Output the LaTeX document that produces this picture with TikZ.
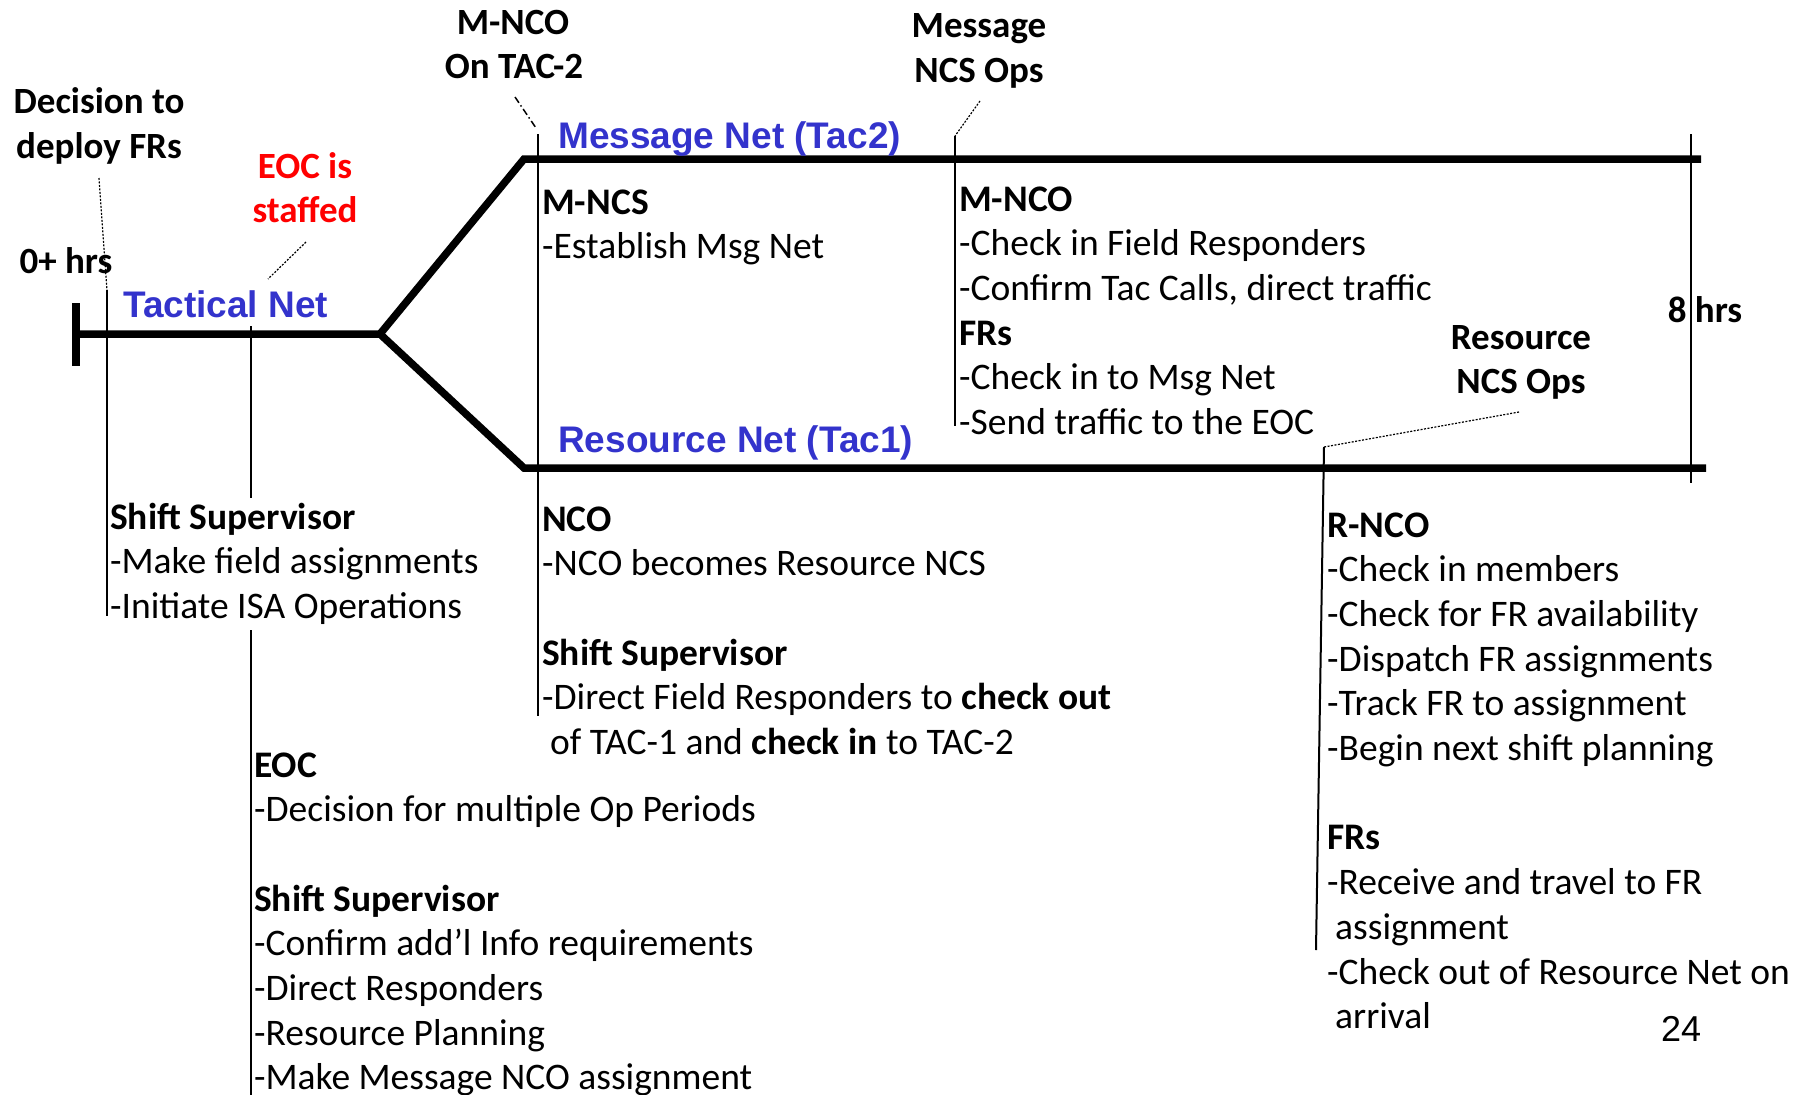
\documentclass[tikz,border=0pt]{standalone}
\usepackage{fontspec}
\setmainfont{Carlito}
\newfontfamily\arialfont{Liberation Sans}
\definecolor{netblue}{RGB}{51,51,204}
\definecolor{eocred}{RGB}{255,0,0}
\begin{document}
\begin{tikzpicture}[x=1pt,y=-1pt,
  body/.style={font=\fontsize{37.5}{45}\selectfont, inner sep=0pt, anchor=base west},
  hdr/.style={font=\fontsize{37}{45}\selectfont\bfseries, inner sep=0pt, anchor=base},
  netlabel/.style={font=\arialfont\bfseries\fontsize{37}{44}\selectfont, text=netblue, inner sep=0pt, anchor=base west},
  netline/.style={line width=7.5pt, line join=miter},
  vline/.style={line width=2pt},
  leader/.style={line width=1.2pt, dash pattern=on 2pt off 1.5pt},
  dashdotleader/.style={line width=1.5pt, dash pattern=on 7pt off 3pt on 1.5pt off 3pt}]
\useasboundingbox (0,0) rectangle (1805,1095);

% ---- nets (thick lines) ----
\coordinate (tickT) at (76,303);
\coordinate (tickB) at (76,366);
\coordinate (start) at (76,334);
\coordinate (fork) at (380,334);
\coordinate (upC) at (524,159);
\coordinate (upE) at (1701,159);
\coordinate (loC) at (524,468);
\coordinate (loE) at (1706,468);
\draw[netline] (tickT) -- (tickB);
\draw[netline] (start) -- (fork) -- (upC) -- (upE);
\draw[netline] (fork) -- (loC) -- (loE);

% ---- net labels ----
\node[netlabel] (tacnet) at (123,317) {Tactical Net};
\node[netlabel] (msgnet) at (558,148) {Message Net (Tac2)};
\node[netlabel] (resnet) at (558,452) {Resource Net (Tac1)};

% ---- headers ----
\node[hdr] (dec1) at (99,113) {Decision to};
\node[hdr] (dec2) at (99,158) {deploy FRs};
\node[hdr] (zero) at (66,273) {0+ hrs};
\node[hdr, text=eocred] (eoc1) at (305,178) {EOC is};
\node[hdr, text=eocred] (eoc2) at (305,222) {staffed};
\node[hdr] (mnco1) at (513,34) {M-NCO};
\node[hdr] (mnco2) at (514,78) {On TAC-2};
\node[hdr] (mncs1) at (979,37) {Message};
\node[hdr] (mncs2) at (979,82) {NCS Ops};
\node[hdr] (rncs1) at (1521,349) {Resource};
\node[hdr] (rncs2) at (1521,393) {NCS Ops};
\node[hdr] (eight) at (1705,322) {8 hrs};
\node[font=\arialfont\fontsize{36}{44}\selectfont, inner sep=0pt, anchor=base west] (page) at (1661,1041) {24};

% ---- vertical markers and leaders ----
\coordinate (aL) at (99,178);
\coordinate (aT) at (107,290);
\coordinate (aB) at (107,616);
\draw[leader] (aL) -- (aT);
\draw[vline] (aT) -- (aB);

\coordinate (bL) at (306,242);
\coordinate (bLe) at (268,279);
\coordinate (bT) at (251,326);
\coordinate (bM) at (251,498);
\coordinate (bM2) at (251,630);
\coordinate (bB) at (251,1100);
\draw[leader] (bL) -- (bLe);
\draw[vline] (bT) -- (bM);
\draw[vline] (bM2) -- (bB);

\coordinate (cL) at (515,97);
\coordinate (cLe) at (536,128);
\coordinate (cT) at (538,134);
\coordinate (cB) at (538,716);
\draw[dashdotleader] (cL) -- (cLe);
\draw[vline] (cT) -- (cB);

\coordinate (dL) at (980,101);
\coordinate (dT) at (955,136);
\coordinate (dB) at (955,426);
\draw[leader] (dL) -- (dT);
\draw[vline] (dT) -- (dB);

\coordinate (eL) at (1519,412);
\coordinate (eT) at (1324,447);
\coordinate (eB) at (1316,950);
\draw[leader] (eL) -- (eT);
\draw[vline] (eT) -- (eB);

\coordinate (fT) at (1691,134);
\coordinate (fB) at (1691,483);
\draw[vline] (fT) -- (fB);

% ---- text blocks ----
\foreach \k/\txt in {0/{\bfseries Shift Supervisor}, 1/{-Make field assignments}, 2/{-Initiate ISA Operations}}
  \node[body] (ss-\k) at (110,{529+44.7*\k}) {\txt};

\foreach \k/\txt in {0/{\bfseries M-NCS}, 1/{-Establish Msg Net}}
  \node[body] (mncs-\k) at (542,{214+44.7*\k}) {\txt};

\foreach \k/\txt in {0/{\bfseries M-NCO}, 1/{-Check in Field Responders}, 2/{-Confirm Tac Calls, direct traffic}, 3/{\bfseries FRs}, 4/{-Check in to Msg Net}, 5/{-Send traffic to the EOC}}
  \node[body] (mnco-\k) at (959,{211+44.7*\k}) {\txt};

\foreach \k/\txt in {0/{\bfseries NCO}, 1/{-NCO becomes Resource NCS}, 3/{\bfseries Shift Supervisor}, 4/{-Direct Field Responders to \textbf{check out}}, 5/{\hspace*{8pt}of TAC-1 and \textbf{check in} to TAC-2}}
  \node[body] (nco-\k) at (542,{531+44.7*\k}) {\txt};

\foreach \k/\txt in {0/{\bfseries EOC}, 1/{-Decision for multiple Op Periods}, 3/{\bfseries Shift Supervisor}, 4/{-Confirm add’l Info requirements}, 5/{-Direct Responders}, 6/{-Resource Planning}, 7/{-Make Message NCO assignment}}
  \node[body] (eoc-\k) at (254,{777+44.7*\k}) {\txt};

\foreach \k/\txt in {0/{\bfseries R-NCO}, 1/{-Check in members}, 2/{-Check for FR availability}, 3/{-Dispatch FR assignments}, 4/{-Track FR to assignment}, 5/{-Begin next shift planning}, 7/{\bfseries FRs}, 8/{-Receive and travel to FR}, 9/{\hspace*{8pt}assignment}, 10/{-Check out of Resource Net on}, 11/{\hspace*{8pt}arrival}}
  \node[body] (rnco-\k) at (1327,{537+44.7*\k}) {\txt};

\end{tikzpicture}
\end{document}
